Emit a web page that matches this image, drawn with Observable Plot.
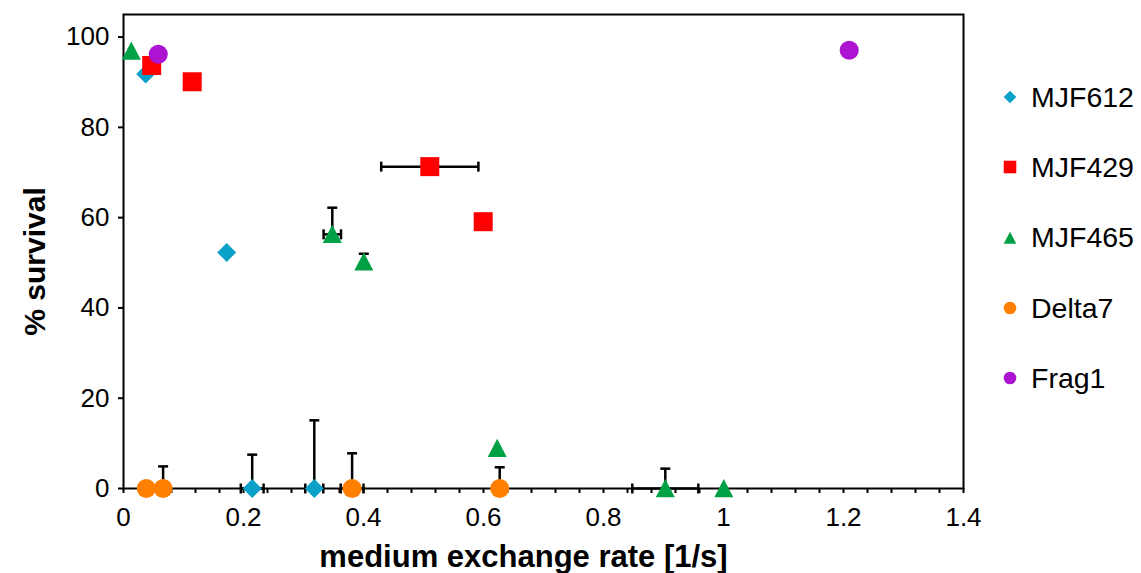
<!DOCTYPE html>
<html><head><meta charset="utf-8">
<script src="https://cdn.jsdelivr.net/npm/d3@7"></script>
<script src="https://cdn.jsdelivr.net/npm/@observablehq/plot@0.6"></script>
<style>
body{margin:0;background:#fff;font-family:"Liberation Sans",Arial,sans-serif;}
#wrap{position:relative;width:1141px;height:573px;overflow:hidden;}
#legend{position:absolute;left:998px;top:62px;}
.item{display:flex;align-items:center;height:70.3px;font-size:28.5px;color:#000;white-space:nowrap;}
.item svg{margin-right:9px;flex:none}
</style></head><body><div id="wrap"><div id="legend"></div></div>
<script>
// ---- data ----
const seriesNames = ["MJF612", "MJF429", "MJF465", "Delta7", "Frag1"];
const seriesColors = ["#0aa0c8", "#ff0000", "#00a046", "#ff8000", "#ac14d2"];

const mjf612X    = [0.037, 0.172, 0.2145, 0.318];
const mjf612Y    = [91.8, 52.3, 0, 0];
const mjf612YErr = [0, 0, 7.5, 15.1];
const mjf612XErr = [0, 0, 0.019, 0.015];

const mjf429X    = [0.047, 0.1145, 0.5105, 0.5995];
const mjf429Y    = [93.7, 90.1, 71.3, 59.1];
const mjf429YErr = [0, 0, 0, 0];
const mjf429XErr = [0, 0, 0.081, 0];

const mjf465X    = [0.013, 0.348, 0.4005, 0.6228, 0.903, 1.0005];
const mjf465Y    = [96.9, 56.3, 50.2, 8.9, 0, 0];
const mjf465YErr = [0, 5.9, 1.8, 0, 4.4, 0];
const mjf465XErr = [0, 0.0145, 0, 0, 0.055, 0];

const delta7X    = [0.038, 0.066, 0.381, 0.627];
const delta7Y    = [0, 0, 0, 0];
const delta7YErr = [0, 4.9, 7.8, 4.7];
const delta7XErr = [0, 0, 0.019, 0];

const frag1X     = [0.058, 1.2095];
const frag1Y     = [96.2, 97.1];
const frag1YErr  = [0, 0];
const frag1XErr  = [0, 0];

const yTicks = [0, 20, 40, 60, 80, 100];
const xTickLabels = [0, 0.2, 0.4, 0.6, 0.8, 1, 1.2, 1.4];
const xMinorStep = 0.04;

// ---- build ----
function rows(name, xs, ys, ye, xe) {
  return xs.map((x, i) => ({name, x, y: ys[i], ye: ye[i], xe: xe[i]}));
}
const data = [
  rows("MJF612", mjf612X, mjf612Y, mjf612YErr, mjf612XErr),
  rows("MJF429", mjf429X, mjf429Y, mjf429YErr, mjf429XErr),
  rows("MJF465", mjf465X, mjf465Y, mjf465YErr, mjf465XErr),
  rows("Delta7", delta7X, delta7Y, delta7YErr, delta7XErr),
  rows("Frag1", frag1X, frag1Y, frag1YErr, frag1XErr)
];
const all = data.flat();
const errY = all.filter(d => d.ye > 0);
const errX = all.filter(d => d.xe > 0);

// custom symbols (size = pi r^2)
const rad = s => Math.sqrt(s / Math.PI);
const symDiamond = {draw(c, s) { const h = rad(s); c.moveTo(0, -h); c.lineTo(h, 0); c.lineTo(0, h); c.lineTo(-h, 0); c.closePath(); }};
const symSquare = {draw(c, s) { const h = rad(s); c.rect(-h, -h, 2 * h, 2 * h); }};
const symTriangle = {draw(c, s) { const h = rad(s); c.moveTo(0, -h); c.lineTo(h, h * 0.92); c.lineTo(-h, h * 0.92); c.closePath(); }};
const symCircle = {draw(c, s) { const h = rad(s); c.moveTo(h, 0); c.arc(0, 0, h, 0, 2 * Math.PI); }};
const symHCap = {draw(c, s) { const h = rad(s); c.moveTo(-h, 0); c.lineTo(h, 0); }};
const symVCap = {draw(c, s) { const h = rad(s); c.moveTo(0, -h); c.lineTo(0, h); }};
const seriesSymbols = [symDiamond, symSquare, symTriangle, symCircle, symCircle];

const xMinor = d3.range(0, Math.round(1.4 / xMinorStep) + 1).map(i => +(i * xMinorStep).toFixed(2));
const isMajor = v => xTickLabels.some(t => Math.abs(t - v) < 1e-6);

const chart = Plot.plot({
  width: 1141,
  height: 573,
  marginLeft: 123,
  marginRight: 178,
  marginTop: 14,
  marginBottom: 85,
  style: {fontFamily: "'Liberation Sans', Arial, sans-serif", background: "white", color: "black"},
  x: {domain: [0, 1.4]},
  y: {domain: [0, 105]},
  marks: [
    Plot.axisY({ticks: yTicks, tickSize: 5, tickPadding: 9, fontSize: 26, strokeWidth: 2, label: null}),
    Plot.axisX({ticks: xMinor, tickSize: 5, tickPadding: 14, fontSize: 26, strokeWidth: 2, label: null,
      tickFormat: v => isMajor(v) ? String(+v.toFixed(1)) : ""}),
    Plot.frame({stroke: "black", strokeWidth: 2}),
    // error bars
    Plot.ruleX(errY, {x: "x", y1: "y", y2: d => d.y + d.ye, stroke: "black", strokeWidth: 2.5}),
    Plot.dot(errY, {x: "x", y: d => d.y + d.ye, symbol: symHCap, r: 5, fill: "none", stroke: "black", strokeWidth: 2.5}),
    Plot.ruleY(errX, {y: "y", x1: d => d.x - d.xe, x2: d => d.x + d.xe, stroke: "black", strokeWidth: 2.5}),
    Plot.dot(errX, {x: d => d.x - d.xe, y: "y", symbol: symVCap, r: 5, fill: "none", stroke: "black", strokeWidth: 2.5}),
    Plot.dot(errX, {x: d => d.x + d.xe, y: "y", symbol: symVCap, r: 5, fill: "none", stroke: "black", strokeWidth: 2.5}),
    // markers
    ...data.map((rs, i) => Plot.dot(rs, {x: "x", y: "y", symbol: seriesSymbols[i], r: 9.5, fill: seriesColors[i], stroke: "none"})),
    // titles
    Plot.text(["% survival"], {frameAnchor: "left", textAnchor: "middle", lineAnchor: "middle", rotate: -90, dx: -88, dy: 10, fontSize: 30, fontWeight: "bold"}),
    Plot.text(["medium exchange rate [1/s]"], {frameAnchor: "bottom", textAnchor: "middle", lineAnchor: "middle", dx: -20, dy: 69, fontSize: 31, fontWeight: "bold"})
  ]
});
document.getElementById("wrap").prepend(chart);

// legend
const legend = document.getElementById("legend");
seriesNames.forEach((name, i) => {
  const item = document.createElement("div");
  item.className = "item";
  const svg = d3.create("svg").attr("width", 24).attr("height", 24);
  svg.append("path").attr("transform", "translate(12,12)")
    .attr("d", d3.symbol(seriesSymbols[i], Math.PI * 6.3 * 6.3)()).attr("fill", seriesColors[i]);
  item.append(svg.node());
  const span = document.createElement("span");
  span.textContent = name;
  item.append(span);
  legend.append(item);
});
</script>
</body></html>
